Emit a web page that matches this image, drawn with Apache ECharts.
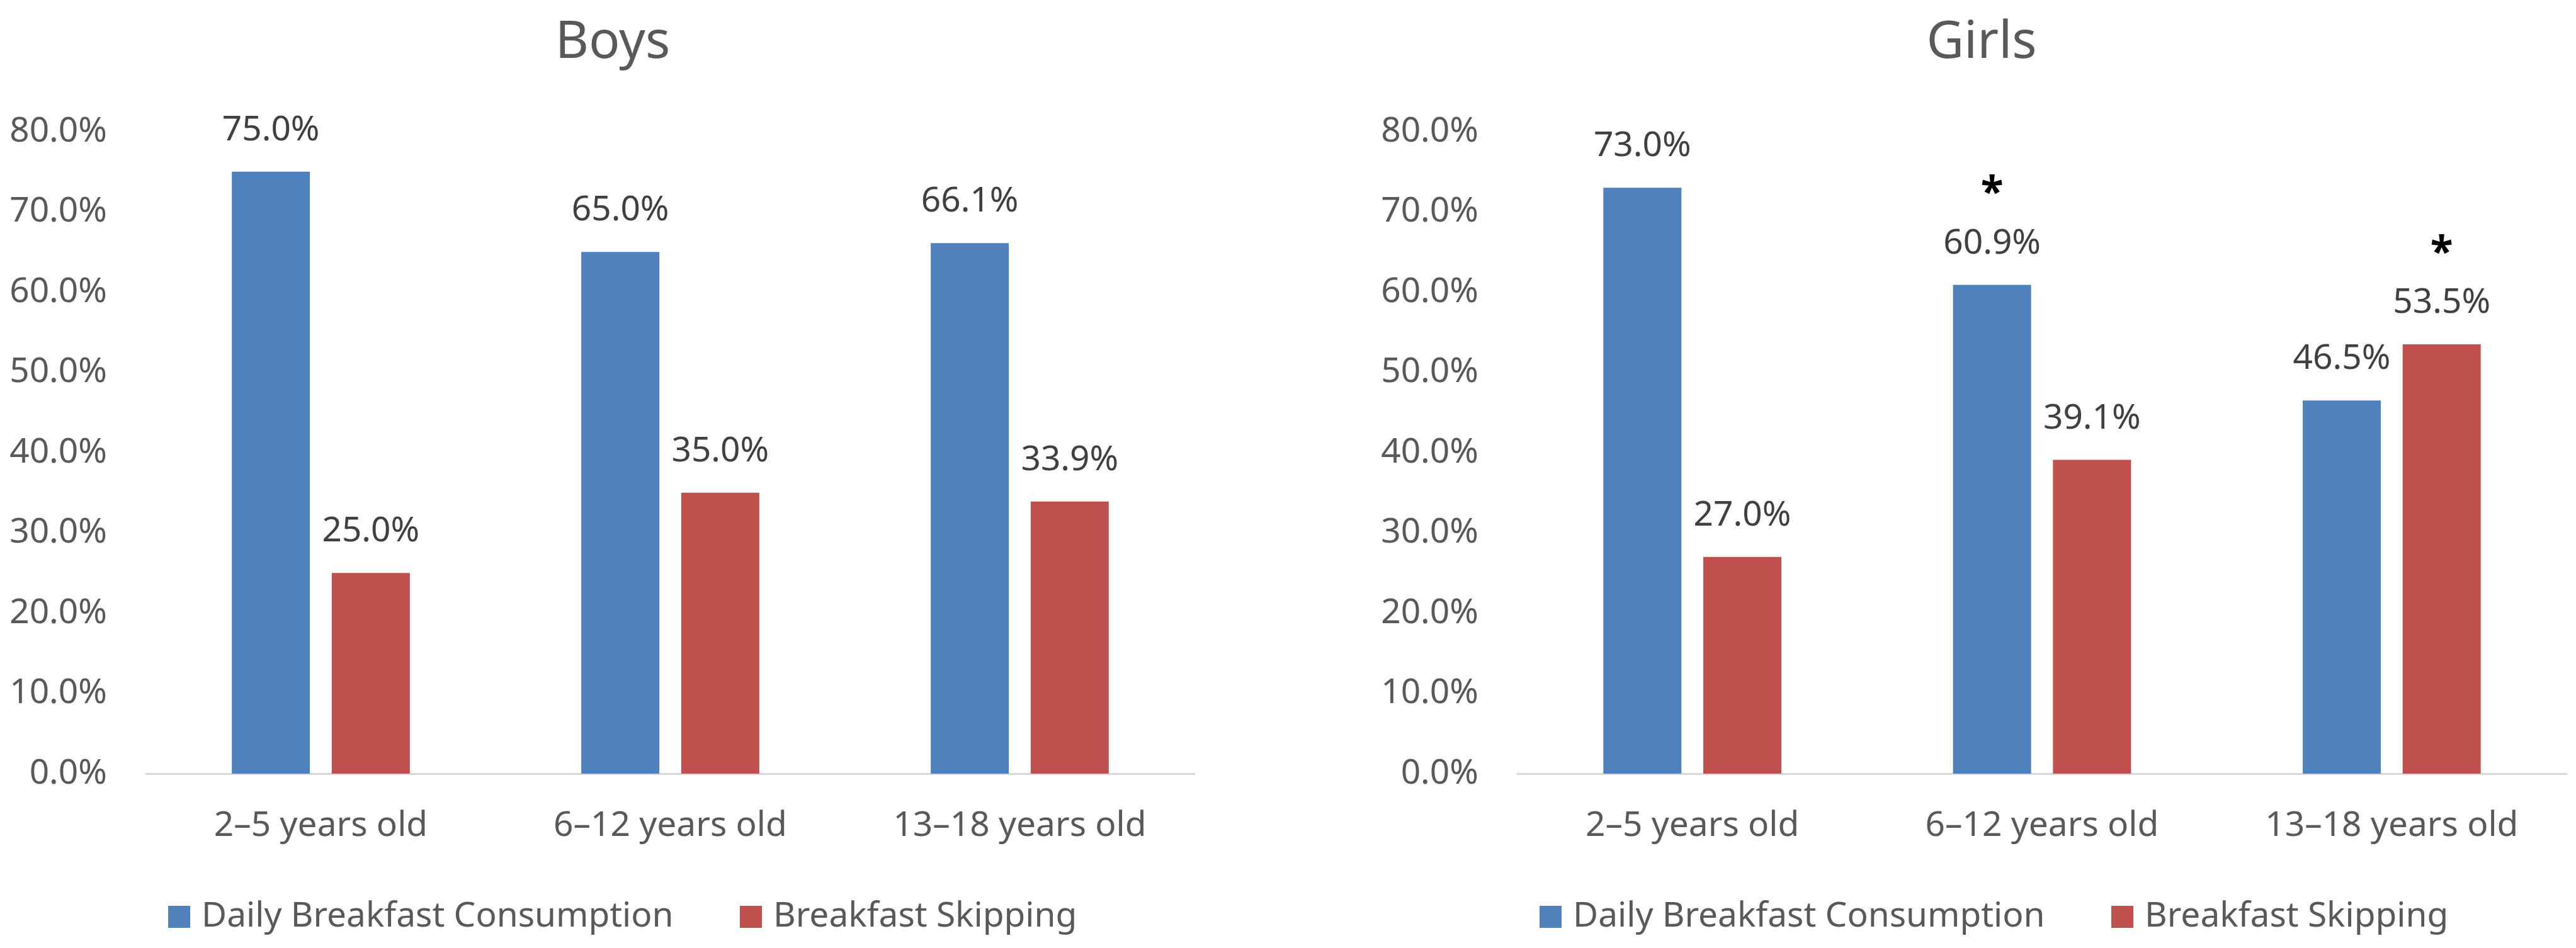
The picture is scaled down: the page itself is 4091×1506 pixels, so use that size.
<!DOCTYPE html>
<html>
<head>
<meta charset="utf-8">
<script src="https://cdn.jsdelivr.net/npm/echarts@6/dist/echarts.min.js"></script>
<style>
html,body{margin:0;padding:0;background:#fff;}
#chart{width:4091px;height:1506px;}
</style>
</head>
<body>
<div id="chart"></div>
<script>
const categories = ['2–5 years old', '6–12 years old', '13–18 years old'];
const seriesNames = ['Daily Breakfast Consumption', 'Breakfast Skipping'];
const boysDaily = [75.0, 65.0, 66.1];
const boysSkip = [25.0, 35.0, 33.9];
const girlsDaily = [73.0, 60.9, 46.5];
const girlsSkip = [27.0, 39.1, 53.5];
const boysDailySig = [false, false, false];
const boysSkipSig = [false, false, false];
const girlsDailySig = [false, true, false];
const girlsSkipSig = [false, false, true];
const panelTitles = ['Boys', 'Girls'];
const yMin = 0, yMax = 80, yStep = 10;

const FONT = '"Noto Sans", "Open Sans", sans-serif';
const BLUE = '#4F81BD', RED = '#C0504D';
const AXIS_GRAY = '#595959', LABEL_DARK = '#404040';

function barSeries(name, data, sig, idx, color) {
  return {
    name: name, type: 'bar', xAxisIndex: idx, yAxisIndex: idx,
    data: data, barWidth: 124, barGap: '28%',
    itemStyle: { color: color },
    label: {
      show: true, position: 'top', distance: 38,
      formatter: p => (sig[p.dataIndex] ? '{s|*}\n' : '') + '{v|' + p.value.toFixed(1) + '%}',
      rich: {
        v: { fontFamily: FONT, fontSize: 55, color: LABEL_DARK, lineHeight: 55 },
        s: { fontFamily: FONT, fontSize: 66, color: '#000', fontWeight: 'bold', lineHeight: 100 }
      }
    }
  };
}

const grids = [
  { left: 232, width: 1665, top: 209, height: 1020 },
  { left: 2410, width: 1666, top: 209, height: 1020 }
];

function xAxis(idx) {
  return {
    type: 'category', gridIndex: idx, data: categories,
    axisTick: { show: false },
    axisLine: { lineStyle: { color: '#D9D9D9', width: 3 } },
    axisLabel: { fontFamily: FONT, fontSize: 55, color: AXIS_GRAY, margin: 56 }
  };
}
function yAxis(idx) {
  return {
    type: 'value', gridIndex: idx, min: yMin, max: yMax, interval: yStep,
    splitLine: { show: false }, axisLine: { show: false }, axisTick: { show: false },
    axisLabel: { fontFamily: FONT, fontSize: 55, color: AXIS_GRAY, margin: 62,
      formatter: v => v.toFixed(1) + '%' }
  };
}
function legend(name, left) {
  return {
    data: [name], left: left, top: 1429, padding: 0,
    itemWidth: 35, itemHeight: 35, icon: 'rect',
    textStyle: { fontFamily: FONT, fontSize: 55, color: AXIS_GRAY, padding: [0, 0, 0, 13] }
  };
}

const chart = echarts.init(document.getElementById('chart'), null, { renderer: 'canvas' });
chart.setOption({
  backgroundColor: '#fff',
  animation: false,
  title: [
    { text: panelTitles[0], left: 973, top: 28, padding: 0, textAlign: 'center',
      textStyle: { fontFamily: FONT, fontSize: 82, fontWeight: 'normal', color: AXIS_GRAY } },
    { text: panelTitles[1], left: 3147, top: 28, padding: 0, textAlign: 'center',
      textStyle: { fontFamily: FONT, fontSize: 82, fontWeight: 'normal', color: AXIS_GRAY } }
  ],
  legend: [
    legend(seriesNames[0], 267), legend(seriesNames[1], 1175),
    legend(seriesNames[0], 2445), legend(seriesNames[1], 3353)
  ],
  grid: grids,
  xAxis: [xAxis(0), xAxis(1)],
  yAxis: [yAxis(0), yAxis(1)],
  series: [
    barSeries(seriesNames[0], boysDaily, boysDailySig, 0, BLUE),
    barSeries(seriesNames[1], boysSkip, boysSkipSig, 0, RED),
    barSeries(seriesNames[0], girlsDaily, girlsDailySig, 1, BLUE),
    barSeries(seriesNames[1], girlsSkip, girlsSkipSig, 1, RED)
  ]
});
</script>
</body>
</html>
